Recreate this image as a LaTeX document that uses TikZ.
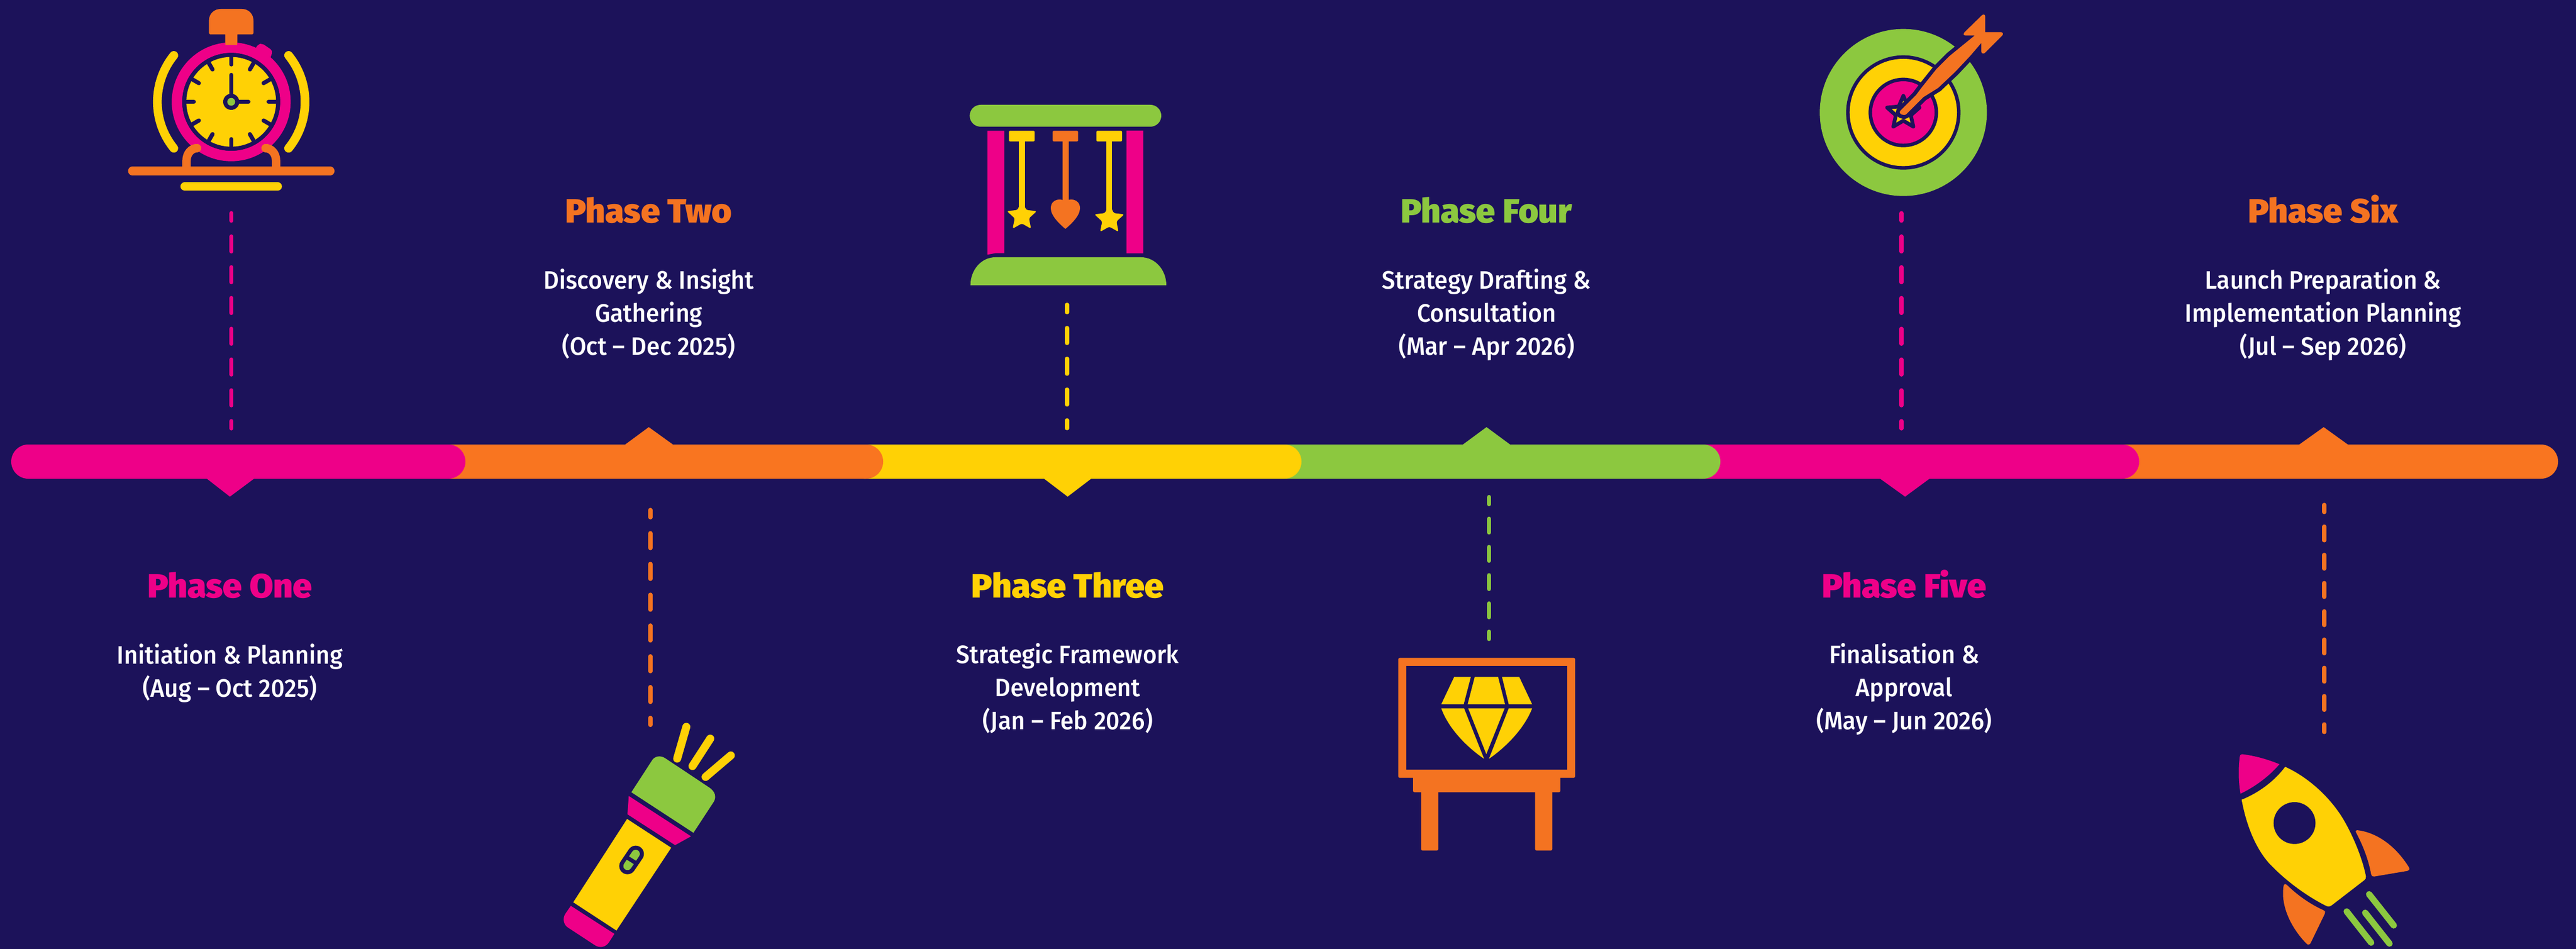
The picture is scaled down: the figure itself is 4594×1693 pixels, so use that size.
\documentclass[tikz,border=0pt]{standalone}
\usepackage{fontspec}
\setmainfont{Fira Sans}
\newfontfamily\headfont[FakeStretch=1.02]{Fira Sans Black}
\newfontfamily\bodyfont[FakeStretch=0.95]{Fira Sans Medium}
\definecolor{bg}{RGB}{28,18,90}
\definecolor{pink}{RGB}{238,0,136}
\definecolor{orng}{RGB}{244,115,33}
\definecolor{barorng}{RGB}{249,117,32}
\definecolor{yel}{RGB}{255,209,5}
\definecolor{grn}{RGB}{140,200,63}
\tikzset{
  zoomat/.style 2 args={shift={(#1pt,-#2pt)},x=.33333pt,y=-.33333pt},
  heading/.style={anchor=base,inner sep=0,font=\headfont\fontsize{60}{60}\selectfont},
  body/.style={anchor=base,inner sep=0,align=center,text=white,font=\bodyfont\fontsize{45}{59}\selectfont},
  link/.style={line width=7.3pt,line cap=round,dash pattern=on 26.8pt off 28.1pt,dash phase=13.4pt},
  linkshort/.style={line width=7.3pt,line cap=round,dash pattern=on 24.7pt off 25.7pt,dash phase=11.7pt},
  beam/.style={line width=14.3pt,line cap=round},
  flame/.style={line width=11.3pt,line cap=round,grn},
  tick/.style={line width=7.3pt,line cap=round,bg},
}
% star centred at origin of the current shift: #1 outer radius, #2 inner radius
\newcommand{\starpts}[2]{(-90:#1) -- (-54:#2) -- (-18:#1) -- (18:#2) -- (54:#1) -- (90:#2) -- (126:#1) -- (162:#2) -- (198:#1) -- (234:#2) -- cycle}
\newcommand{\dartpts}{(568,592) -- (650,510) -- (680,470) -- (760,370) -- (830,300) -- (965,190) -- (915,190) .. controls (905,190) and (903,180) .. (908,175) -- (1003,82) .. controls (1012,74) and (1021,78) .. (1021,88) -- (1021,172) -- (1105,172) .. controls (1115,172) and (1120,182) .. (1112,190) -- (1018,284) .. controls (1010,290) and (1000,285) .. (1000,275) -- (1000,230) -- (940,300) -- (860,385) -- (770,470) -- (690,520) -- (600,610) .. controls (585,625) and (553,607) .. (568,592) -- cycle}
\begin{document}
\begin{tikzpicture}[x=1pt,y=-1pt]
\fill[bg] (0,0) rectangle (4594,1693);
\useasboundingbox (0,0) rectangle (4594,1693);

% ---------- timeline bar (right to left so that each left segment overlaps)
\fill[barorng,rounded corners=30.5pt] (3760,793) rectangle (4562,854);
\fill[barorng] (4100.5,793) -- (4144,762) -- (4187,793) -- cycle;
\fill[pink,rounded corners=30.5pt] (3000,793) rectangle (3815,854);
\fill[pink] (3353,854) -- (3397.5,886) -- (3441,854) -- cycle;
\fill[grn,rounded corners=30.5pt] (2260,793) rectangle (3068,854);
\fill[grn] (2609,793) -- (2651,762) -- (2693,793) -- cycle;
\fill[yel,rounded corners=30.5pt] (1510,793) rectangle (2321,854);
\fill[yel] (1862,854) -- (1904,886) -- (1946,854) -- cycle;
\fill[barorng,rounded corners=30.5pt] (770,793) rectangle (1575,854);
\fill[barorng] (1115,793) -- (1157,762) -- (1200,793) -- cycle;
\fill[pink,rounded corners=30.5pt] (20,793) rectangle (830,854);
\fill[pink] (369,854) -- (410,886) -- (453,854) -- cycle;

% ---------- connector end points
\coordinate (a1) at (412.7,380.3); \coordinate (b1) at (412.7,764.3);
\coordinate (a2) at (1160,909.6); \coordinate (b2) at (1160,1293.4);
\coordinate (a3) at (1903,543.6); \coordinate (b3) at (1903,764);
\coordinate (a4) at (2655.7,886.6); \coordinate (b4) at (2655.7,1140);
\coordinate (a5) at (3391,380.3); \coordinate (b5) at (3391,764.3);
\coordinate (a6) at (4145,900.6); \coordinate (b6) at (4145,1306);
\draw[link,pink] (a1) -- (b1);
\draw[link,orng] (a2) -- (b2);
\draw[link,yel] (a3) -- (b3);
\draw[linkshort,grn] (a4) -- (b4);
\draw[link,pink] (a5) -- (b5);
\draw[linkshort,orng] (a6) -- (b6);

% ---------- texts
\node[heading,text=pink] (h1) at (410,1066) {Phase One};
\node[body] (t1) at (410,1243) {Initiation \& Planning\\(Aug – Oct 2025)};
\node[heading,text=orng] (h2) at (1157,398) {Phase Two};
\node[body] (t2) at (1157,633) {Discovery \& Insight\\Gathering\\(Oct – Dec 2025)};
\node[heading,text=yel] (h3) at (1904,1066) {Phase Three};
\node[body] (t3) at (1904,1301) {Strategic Framework\\Development\\(Jan – Feb 2026)};
\node[heading,text=grn] (h4) at (2651,398) {Phase Four};
\node[body] (t4) at (2651,633) {Strategy Drafting \&\\Consultation\\(Mar – Apr 2026)};
\node[heading,text=pink] (h5) at (3396,1066) {Phase Five};
\node[body] (t5) at (3396,1301) {Finalisation \&\\Approval\\(May – Jun 2026)};
\node[heading,text=orng] (h6) at (4143,398) {Phase Six};
\node[body] (t6) at (4143,633) {Launch Preparation \&\\Implementation Planning\\(Jul – Sep 2026)};

% ---------- stopwatch
\begin{scope}[zoomat={180}{0}]
\fill[orng] (578,178) -- (578,110) .. controls (578,70) and (610,48) .. (640,48) -- (755,48) .. controls (790,48) and (816,75) .. (816,110) -- (816,178) -- (810,184) -- (730,184) -- (730,242) -- (722,250) -- (673,250) -- (665,242) -- (665,184) -- (584,184) -- cycle;
\draw[pink,line width=18.7pt] (697,545) circle [radius=290];
\fill[pink,rounded corners=5pt] (822,268) -- (840,238) -- (862,232) -- (920,272) -- (902,322) -- cycle;
\fill[orng] (665,184) rectangle (730,240);
\fill[bg] (697,545) circle [radius=262];
\fill[yel] (697,545) circle [radius=240];
\foreach \a in {0,30,...,330}
  \draw[tick] (697,545) ++(\a:245) -- ++(\a:-45);
\draw[tick] (697,545) -- (697,401);
\draw[tick] (697,545) -- (789,545);
\fill[bg] (697,545) circle [radius=43];
\fill[grn] (697,545) circle [radius=21];
\draw[yel,line width=15.5pt,line cap=round] (697,545) ++(141:395) arc [start angle=141,end angle=219,radius=395];
\draw[yel,line width=15.5pt,line cap=round] (697,545) ++(39:395) arc [start angle=39,end angle=-39,radius=395];
\draw[orng,line width=15pt,line cap=round] (458,915) -- (458,860) .. controls (458,820) and (485,793) .. (514,793);
\draw[orng,line width=15pt,line cap=round] (937,915) -- (937,860) .. controls (937,820) and (910,793) .. (881,793);
\draw[orng,line width=15.3pt,line cap=round] (168,915) -- (1227,915);
\draw[yel,line width=15pt,line cap=round] (448,998) -- (946,998);
\end{scope}

% ---------- flashlight
\begin{scope}[zoomat={950}{1180}]
\fill[grn] (528,700) -- (860,917) -- (968,752) .. controls (985,725) and (975,695) .. (945,675) -- (712,520) .. controls (685,500) and (650,505) .. (635,535) -- cycle;
\fill[pink] (514,720) -- (847,936) -- (762,983) -- (507,818) -- cycle;
\fill[yel] (505,843) -- (741,997) -- (448,1440) -- (217,1289) -- cycle;
\fill[pink] (204,1308) -- (437,1458) -- (410,1500) .. controls (392,1530) and (360,1535) .. (335,1520) -- (190,1425) .. controls (165,1410) and (158,1375) .. (175,1350) -- cycle;
\draw[bg,line width=29.3pt,line cap=round] (551,1030) -- (507,1095);
\draw[grn,line width=14.7pt,line cap=round] (551,1030) -- (507,1095);
\draw[bg,line width=7pt] (495,1043) -- (560,1084);
\draw[yel,beam] (822,350) -- (773,520);
\draw[yel,beam] (950,413) -- (855,560);
\draw[yel,beam] (1060,503) -- (925,618);
\end{scope}

% ---------- chimes
\begin{scope}[zoomat={1700}{160}]
\fill[grn,rounded corners=19.5pt] (88,81) rectangle (1113,198);
\fill[pink] (183,220) rectangle (273,875) -- (225,875) -- (183,883) -- (183,875) -- cycle;
\fill[pink] (927,220) rectangle (1018,875);
\fill[yel,rounded corners=2pt] (298,220) -- (435,220) -- (435,277) -- (298,277) -- cycle;
\fill[yel] (351,270) rectangle (383,640);
\fill[yel,shift={(367,676)},rounded corners=3pt] \starpts{84}{40};
\fill[orng,rounded corners=2pt] (532,220) -- (668,220) -- (668,277) -- (532,277) -- cycle;
\fill[orng] (585,270) rectangle (617,610);
\fill[orng] (600,600) .. controls (585,580) and (522,580) .. (522,635) .. controls (522,675) and (570,720) .. (600,745) .. controls (630,720) and (678,675) .. (678,635) .. controls (678,580) and (615,580) .. (600,600);
\fill[yel,rounded corners=2pt] (766,220) -- (903,220) -- (903,277) -- (766,277) -- cycle;
\fill[yel] (818,270) rectangle (850,655);
\fill[yel,shift={(835,693)},rounded corners=3pt] \starpts{84}{40};
\fill[grn] (92,1047) .. controls (92,965) and (150,897) .. (225,897) -- (1005,897) .. controls (1080,897) and (1140,965) .. (1140,1047) -- cycle;
\end{scope}

% ---------- easel
\begin{scope}[zoomat={2450}{1150}]
\fill[orng,rounded corners=2.5pt] (253,780) rectangle (345,1102);
\fill[orng,rounded corners=2.5pt] (863,780) rectangle (955,1102);
\fill[orng,rounded corners=2.5pt] (210,660) rectangle (998,790);
\fill[orng,rounded corners=2.5pt] (131,71) rectangle (1077,713);
\fill[bg] (174,114) rectangle (1034,670);
\fill[yel] (430,173) -- (519,173) -- (481,319) -- (361,319) -- cycle;
\fill[yel] (540,173) -- (665,173) -- (702,319) -- (502,319) -- cycle;
\fill[yel] (686,173) -- (778,173) -- (847,319) -- (722,319) -- cycle;
\fill[yel] (361,341) -- (483,341) -- (590,611) .. controls (500,550) and (400,450) .. (361,341) -- cycle;
\fill[yel] (505,341) -- (700,341) -- (602,586) -- cycle;
\fill[yel] (722,341) -- (847,341) .. controls (805,450) and (705,550) .. (616,611) -- cycle;
\end{scope}

% ---------- target
\begin{scope}[zoomat={3200}{0}]
\fill[grn] (583,602) circle [radius=447];
\fill[bg] (583,602) circle [radius=306];
\fill[yel] (583,602) circle [radius=287];
\fill[bg] (583,602) circle [radius=186];
\fill[pink] (583,602) circle [radius=167];
\draw[bg,fill=yel,line width=6.7pt,shift={(583,604)},line join=round] \starpts{91}{42};
\draw[bg,line width=14pt,line join=round] \dartpts;
\fill[orng] \dartpts;
\end{scope}

% ---------- rocket
\begin{scope}[zoomat={3950}{1320}]
\fill[pink] (133,90) .. controls (134,80) and (140,76) .. (150,77) .. controls (215,85) and (285,105) .. (345,130) .. controls (290,195) and (215,250) .. (137,288) .. controls (125,220) and (125,150) .. (133,90) -- cycle;
\fill[yel] (376,144) .. controls (500,200) and (620,310) .. (690,430) .. controls (745,525) and (790,640) .. (808,730) .. controls (810,740) and (805,745) .. (800,750) -- (625,885) .. controls (615,893) and (605,893) .. (595,888) .. controls (480,830) and (370,745) .. (290,660) .. controls (210,570) and (165,440) .. (143,320) .. controls (230,285) and (315,225) .. (376,144) -- cycle;
\fill[bg] (426,445) circle [radius=112];
\fill[orng] (755,495) .. controls (750,485) and (758,482) .. (768,484) .. controls (880,500) and (975,580) .. (1038,682) .. controls (1044,692) and (1038,700) .. (1030,701) -- (852,731) .. controls (843,732) and (838,728) .. (836,720) .. controls (822,640) and (790,560) .. (755,495) -- cycle;
\fill[orng] (367,785) .. controls (367,772) and (376,768) .. (385,776) .. controls (440,830) and (510,880) .. (582,912) .. controls (590,916) and (592,922) .. (588,930) -- (512,1087) .. controls (507,1097) and (497,1098) .. (490,1090) .. controls (420,1020) and (350,900) .. (367,785) -- cycle;
\draw[flame] (825,826) -- (957,993);
\draw[flame] (705,918) -- (836,1085);
\draw[flame] (804,925) -- (934,1090);
\end{scope}
\end{tikzpicture}
\end{document}
